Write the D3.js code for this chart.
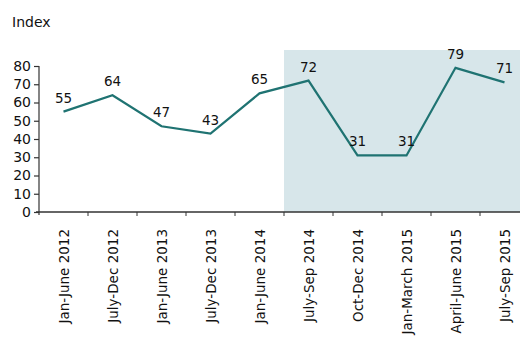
<!DOCTYPE html>
<html>
<head>
<meta charset="utf-8">
<script src="https://cdn.jsdelivr.net/npm/d3@7"></script>
<style>
  html, body { margin: 0; padding: 0; background: #fff; }
  svg { display: block; font-family: "DejaVu Sans", Verdana, sans-serif; }
</style>
</head>
<body>
<svg id="chart" width="520" height="338"></svg>
<script>
// Half-yearly and quarterly periods
const periods = [
  "Jan-June 2012", "July-Dec 2012", "Jan-June 2013", "July-Dec 2013",
  "Jan-June 2014", "July-Sep 2014", "Oct-Dec 2014", "Jan-March 2015",
  "April-June 2015", "July-Sep 2015"
];
const indexValues = [55, 64, 47, 43, 65, 72, 31, 31, 79, 71];
const yTicks = [0, 10, 20, 30, 40, 50, 60, 70, 80];
// Quarterly periods are highlighted from this category onwards
const shadeFrom = "July-Sep 2014";

const svg = d3.select("#chart");
const plotLeft = 39, plotRight = 529, plotTop = 50, plotBottom = 212;

const x = d3.scaleBand().domain(periods).range([plotLeft, plotRight]);
const y = d3.scaleLinear().domain([0, 80]).range([plotBottom, 66]);

// Highlight panel
svg.append("rect")
  .attr("x", x(shadeFrom))
  .attr("y", plotTop)
  .attr("width", 520 - x(shadeFrom))
  .attr("height", plotBottom - plotTop)
  .attr("fill", "#d7e6ea");

// Y axis
const yAxis = svg.append("g")
  .attr("transform", `translate(${plotLeft},0)`)
  .call(d3.axisLeft(y).tickValues(yTicks).tickSize(5).tickPadding(3));
yAxis.select(".domain").attr("d", `M0,${y(80)}V${plotBottom + 3}`);
yAxis.selectAll("path, line").attr("stroke", "#333").attr("stroke-width", 1.2);
yAxis.selectAll("text").attr("font-size", 14).attr("fill", "#111")
  .attr("font-family", "DejaVu Sans, Verdana, sans-serif");

// X axis: ticks sit on band boundaries
const xAxis = svg.append("g")
  .attr("transform", `translate(0,${plotBottom})`);
xAxis.append("line")
  .attr("x1", plotLeft - 3).attr("x2", 520)
  .attr("stroke", "#333").attr("stroke-width", 1.4);
xAxis.selectAll("line.tick")
  .data(periods.slice(1))
  .join("line")
  .attr("class", "tick")
  .attr("x1", d => x(d)).attr("x2", d => x(d))
  .attr("y1", 0).attr("y2", 4)
  .attr("stroke", "#333");
xAxis.selectAll("text")
  .data(periods)
  .join("text")
  .attr("transform", d => `translate(${x(d) + x.bandwidth() / 2 + 5},17) rotate(-90)`)
  .attr("text-anchor", "end")
  .attr("font-size", 13.5)
  .attr("fill", "#111")
  .text(d => d);

// Index line
const line = d3.line()
  .x((d, i) => x(periods[i]) + x.bandwidth() / 2)
  .y(d => y(d));
svg.append("path")
  .datum(indexValues)
  .attr("d", line)
  .attr("fill", "none")
  .attr("stroke", "#1f7372")
  .attr("stroke-width", 2.2);

// Value labels
svg.selectAll("text.val")
  .data(indexValues)
  .join("text")
  .attr("class", "val")
  .attr("x", (d, i) => x(periods[i]) + x.bandwidth() / 2)
  .attr("y", d => y(d) - 9)
  .attr("text-anchor", "middle")
  .attr("font-size", 13.5)
  .attr("fill", "#111")
  .text(d => d);

// Unit title
svg.append("text")
  .attr("x", 12).attr("y", 27)
  .attr("font-size", 14)
  .attr("fill", "#111")
  .text("Index");
</script>
</body>
</html>
